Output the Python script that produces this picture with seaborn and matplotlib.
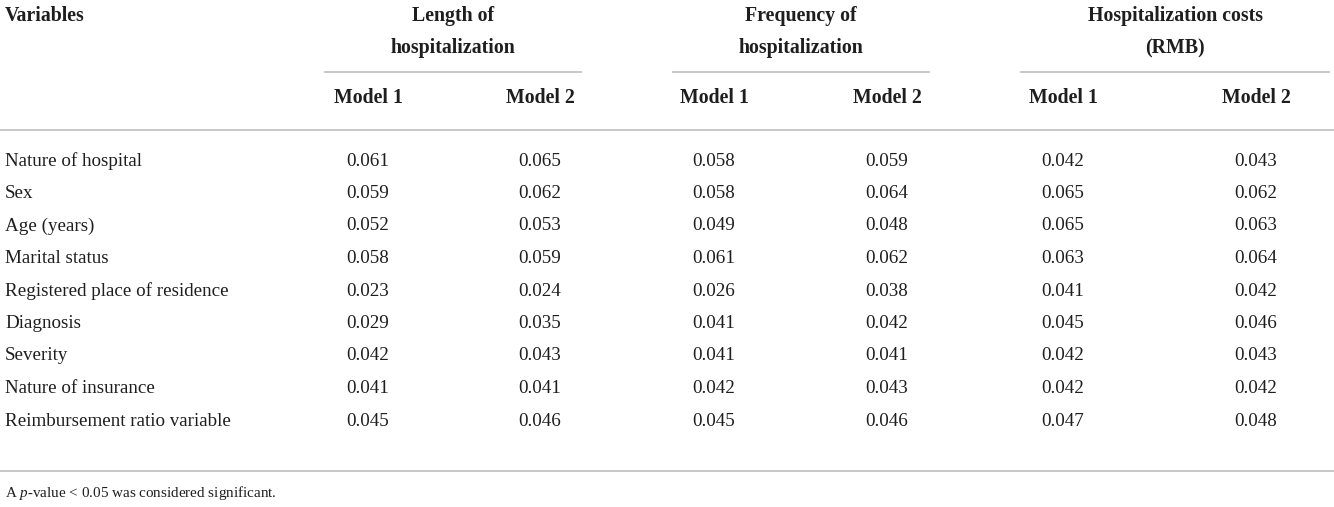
import numpy as np
import pandas as pd
import matplotlib
matplotlib.use("Agg")
import matplotlib.pyplot as plt
import seaborn as sns

# table content
variables = ["Nature of hospital", "Sex", "Age (years)", "Marital status",
             "Registered place of residence", "Diagnosis", "Severity",
             "Nature of insurance", "Reimbursement ratio variable"]
groups = [("Length of", "hospitalization"), ("Frequency of", "hospitalization"),
          ("Hospitalization costs", "(RMB)")]
models = ["Model 1", "Model 2"]

length_m1 = [0.061, 0.059, 0.052, 0.058, 0.023, 0.029, 0.042, 0.041, 0.045]
length_m2 = [0.065, 0.062, 0.053, 0.059, 0.024, 0.035, 0.043, 0.041, 0.046]
freq_m1 = [0.058, 0.058, 0.049, 0.061, 0.026, 0.041, 0.041, 0.042, 0.045]
freq_m2 = [0.059, 0.064, 0.048, 0.062, 0.038, 0.042, 0.041, 0.043, 0.046]
cost_m1 = [0.042, 0.065, 0.065, 0.063, 0.041, 0.045, 0.042, 0.042, 0.047]
cost_m2 = [0.043, 0.062, 0.063, 0.064, 0.042, 0.046, 0.043, 0.042, 0.048]

footnote = "A $p$-value < 0.05 was considered significant."

df = pd.DataFrame({"Variables": variables,
                   "L1": length_m1, "L2": length_m2,
                   "F1": freq_m1, "F2": freq_m2,
                   "C1": cost_m1, "C2": cost_m2})

sns.set_theme(style="white")
plt.rcParams["font.family"] = ["Liberation Serif", "DejaVu Serif"]
plt.rcParams["mathtext.fontset"] = "custom"
plt.rcParams["mathtext.it"] = "Liberation Serif:italic"
plt.rcParams["mathtext.rm"] = "Liberation Serif"

W, H = 1334, 507
fig = plt.figure(figsize=(W / 100, H / 100), dpi=100)
ax = fig.add_axes([0, 0, 1, 1])
ax.set_xlim(0, W)
ax.set_ylim(H, 0)
ax.axis("off")

txt = "#1e1e1e"
rule = "#c8c8c8"
body_fs = 13.7
head_fs = 14.3

# layout
col_x = [368, 540, 714, 887, 1063, 1256]
group_span = [(324, 582), (672, 930), (1020, 1330)]
row_y0, row_dy = 161, 32.5

ax.text(5, 16, "Variables", ha="left", va="center", fontsize=head_fs,
        fontweight="bold", color=txt)
for (x0, x1), (g1, g2) in zip(group_span, groups):
    xc = (x0 + x1) / 2
    ax.text(xc, 16, g1, ha="center", va="center", fontsize=head_fs,
            fontweight="bold", color=txt)
    ax.text(xc, 48, g2, ha="center", va="center", fontsize=head_fs,
            fontweight="bold", color=txt)
    ax.plot([x0, x1], [72, 72], color=rule, lw=1.4, solid_capstyle="butt")
for i, x in enumerate(col_x):
    ax.text(x, 98, models[i % 2], ha="center", va="center", fontsize=head_fs,
            fontweight="bold", color=txt)

ax.plot([0, W], [130, 130], color=rule, lw=1.4)
ax.plot([0, W], [471, 471], color=rule, lw=1.4)

value_cols = ["L1", "L2", "F1", "F2", "C1", "C2"]
for r, row in df.iterrows():
    y = row_y0 + r * row_dy
    ax.text(5, y, row["Variables"], ha="left", va="center", fontsize=body_fs, color=txt)
    for x, c in zip(col_x, value_cols):
        ax.text(x, y, f"{row[c]:.3f}", ha="center", va="center", fontsize=body_fs, color=txt)

ax.text(5, 493, footnote, ha="left", va="center", fontsize=10.9, color=txt)

fig.savefig("out.png", dpi=100, facecolor="white")
